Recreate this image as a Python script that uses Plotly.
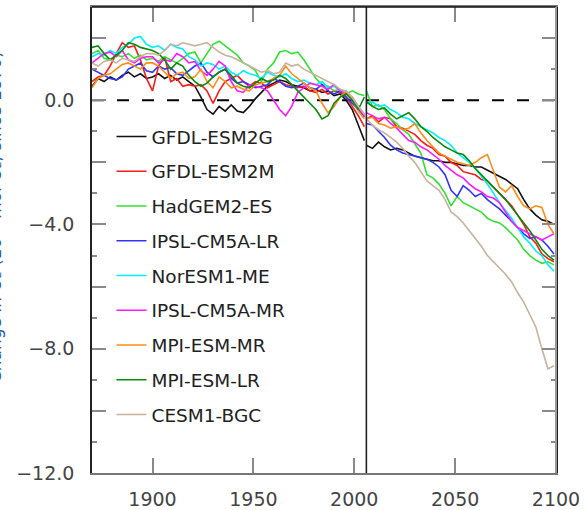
import plotly.graph_objects as go

# ---- data -------------------------------------------------------------
hist_years = list(range(1870, 2006, 3))   # 1870 ... 2005
fut_years = list(range(2006, 2100, 3))    # 2006 ... 2099

models = ["GFDL-ESM2G", "GFDL-ESM2M", "HadGEM2-ES", "IPSL-CM5A-LR", "NorESM1-ME",
          "IPSL-CM5A-MR", "MPI-ESM-MR", "MPI-ESM-LR", "CESM1-BGC"]
colors = ["#111111", "#ff1a1a", "#33e033", "#3333ff", "#00f0ff",
          "#ff1aff", "#ff8c1a", "#0a8a0a", "#c9b29b"]

gfdl_esm2g_hist = [0.45, 0.7, 0.6, 0.75, 0.65, 0.8, 0.9, 0.75, 0.85, 0.7,
                   0.75, 0.85, 0.7, 0.8, 0.65, 0.75, 0.6, 0.45, 0.1, -0.3,
                   -0.45, -0.2, -0.35, -0.15, -0.35, -0.4, -0.2, 0.05, 0.25, 0.45,
                   0.55, 0.65, 0.6, 0.5, 0.45, 0.4, 0.3, 0.35, 0.25, 0.3,
                   0.15, 0.2, 0.0, -0.3, -0.8, -1.3]
gfdl_esm2m_hist = [0.6, 0.75, 0.8, 1.1, 1.5, 1.85, 1.7, 1.75, 1.3, 0.7,
                   0.3, 1.1, 1.4, 0.6, 0.7, 0.45, 0.5, 0.45, 0.5, 0.3,
                   -0.1, 0.3, 0.6, 0.7, 0.8, 0.6, 0.45, 0.6, 0.55, 0.4,
                   0.5, 0.6, 0.5, 0.45, 0.4, 0.45, 0.3, 0.25, 0.35, 0.2,
                   0.3, 0.25, 0.1, -0.2, -0.5, -0.85]
hadgem2_es_hist = [1.5, 1.6, 1.35, 1.3, 1.45, 1.4, 1.5, 1.35, 1.45, 1.3,
                   1.35, 1.25, 1.4, 1.3, 1.2, 1.35, 1.5, 1.55, 1.2, 1.5,
                   1.8, 1.9, 1.75, 1.6, 1.45, 1.2, 1.1, 0.95, 0.6, 1.0,
                   1.2, 1.55, 1.6, 1.5, 1.55, 1.3, 1.0, 0.7, 0.5, 0.45,
                   0.3, 0.35, 0.2, 0.3, 0.2, 0.15]
ipsl_lr_hist = [1.0, 0.9, 0.8, 0.7, 0.65, 0.75, 1.0, 1.1, 1.2, 0.95,
                0.9, 1.1, 1.0, 1.05, 0.85, 0.8, 0.95, 1.1, 1.2, 0.9,
                0.75, 0.9, 1.0, 0.7, 0.55, 0.6, 0.5, 0.4, 0.45, 0.5,
                0.7, 0.6, 0.45, 0.4, 0.45, 0.55, 0.4, 0.35, 0.5, 0.3,
                0.2, 0.3, 0.1, -0.1, -0.3, -0.55]
noresm_hist = [1.4, 1.5, 1.45, 1.6, 1.5, 1.7, 1.8, 2.0, 2.05, 1.8,
               1.7, 1.75, 1.6, 1.8, 1.7, 1.65, 1.4, 1.3, 1.1, 1.2,
               1.15, 1.0, 1.1, 0.9, 0.8, 0.95, 0.85, 0.8, 0.7, 0.9,
               0.8, 0.75, 0.85, 0.7, 0.6, 0.65, 0.55, 0.5, 0.6, 0.4,
               0.45, 0.3, 0.25, 0.05, -0.2, -0.45]
ipsl_mr_hist = [1.2, 1.35, 1.5, 1.55, 1.4, 1.6, 1.3, 1.2, 1.35, 1.4,
                1.4, 1.2, 1.3, 1.25, 1.5, 1.4, 1.2, 1.25, 0.95, 0.8,
                1.0, 1.25, 1.1, 0.6, 0.3, 0.25, 0.5, 0.45, 0.4, 0.3,
                0.0, -0.3, -0.5, -0.2, 0.25, 0.4, 0.55, 0.5, 0.45, 0.35,
                0.5, 0.3, 0.2, 0.1, -0.2, -0.5]
mpi_mr_hist = [0.4, 0.7, 0.8, 0.85, 1.0, 1.15, 1.2, 1.1, 1.0, 1.2,
               1.2, 1.1, 0.9, 0.7, 0.85, 0.9, 0.7, 0.75, 1.0, 0.6,
               0.4, 0.75, 0.6, 0.4, 0.45, 0.35, 0.3, 0.5, 0.55, 0.6,
               0.7, 0.8, 1.1, 0.85, 0.7, 0.55, 0.4, 0.3, -0.1, -0.4,
               -0.2, 0.1, 0.3, 0.0, -0.35, -0.6]
mpi_lr_hist = [1.7, 1.75, 1.5, 1.3, 1.45, 1.6, 1.85, 1.8, 1.7, 1.65,
               1.6, 1.5, 1.3, 1.0, 1.2, 1.1, 0.8, 0.6, 0.45, 0.55,
               0.75, 0.9, 1.0, 0.8, 0.55, 0.45, 0.4, 0.55, 0.7, 0.6,
               0.65, 0.8, 0.7, 0.5, 0.3, 0.1, -0.1, -0.3, -0.6, -0.5,
               -0.1, 0.1, 0.2, 0.0, -0.3, 0.1]
cesm_hist = [1.2, 1.1, 1.25, 1.3, 1.2, 1.35, 1.3, 1.25, 1.4, 1.5,
             1.5, 1.45, 1.6, 1.8, 1.75, 1.85, 1.8, 1.75, 1.8, 1.85,
             1.7, 1.55, 1.45, 1.4, 1.3, 1.2, 1.1, 1.0, 0.9, 0.95,
             0.85, 0.9, 1.2, 1.1, 1.15, 1.0, 0.9, 0.8, 0.7, 0.6,
             0.5, 0.35, 0.3, 0.1, -0.2, -0.45]

gfdl_esm2g_fut = [-1.45, -1.55, -1.35, -1.5, -1.6, -1.55, -1.6, -1.7, -1.8, -1.85,
                  -1.9, -1.95, -1.95, -2.0, -2.0, -2.05, -2.1, -2.1, -2.15, -2.15,
                  -2.25, -2.35, -2.45, -2.55, -2.7, -2.85, -3.2, -3.5, -3.7, -3.85,
                  -3.9, -4.0]
gfdl_esm2m_fut = [-0.6, -0.5, -0.7, -0.55, -0.6, -0.85, -0.9, -1.0, -1.1, -1.3,
                  -1.45, -1.55, -1.75, -1.8, -2.0, -2.1, -2.3, -2.35, -2.4, -2.55,
                  -2.6, -2.8, -3.0, -3.2, -3.4, -3.7, -4.0, -4.4, -4.6, -4.95,
                  -5.1, -5.2]
hadgem2_es_fut = [0.3, -0.2, -0.15, -0.3, -0.6, -0.75, -0.95, -1.1, -1.4, -1.7,
                  -2.4, -2.5, -2.7, -3.0, -3.4, -3.1, -3.3, -3.4, -3.5, -3.6,
                  -3.8, -3.9, -3.95, -4.1, -4.3, -4.5, -4.8, -5.0, -5.15, -5.25,
                  -5.2, -5.3]
ipsl_lr_fut = [-0.75, -0.8, -1.0, -1.2, -1.45, -1.6, -1.7, -1.75, -1.8, -1.85,
               -1.9, -2.0, -2.15, -2.4, -2.9, -3.1, -2.75, -2.9, -3.1, -3.0,
               -3.2, -3.35, -3.5, -3.7, -3.9, -4.1, -4.3, -4.45, -4.4, -4.5,
               -4.7, -4.95]
noresm_fut = [-0.1, -0.05, -0.2, -0.15, -0.3, -0.4, -0.55, -0.6, -0.75, -0.85,
              -0.95, -1.05, -1.2, -1.3, -1.45, -1.7, -1.85, -2.0, -2.2, -2.45,
              -2.7, -3.0, -3.3, -3.55, -3.8, -4.1, -4.4, -4.6, -4.85, -5.0,
              -5.3, -5.5]
ipsl_mr_fut = [-0.4, -0.5, -0.6, -0.55, -0.75, -0.9, -1.1, -1.3, -1.35, -1.5,
               -1.6, -1.75, -1.9, -2.1, -2.25, -2.4, -2.5, -2.7, -2.85, -2.95,
               -3.1, -3.15, -3.3, -3.6, -3.9, -4.1, -4.2, -4.3, -4.4, -4.5,
               -4.4, -4.3]
mpi_mr_fut = [-0.6, -0.55, -0.75, -0.8, -0.9, -0.85, -0.95, -0.9, -0.75, -1.05,
              -1.3, -1.5, -1.7, -1.8, -1.9, -2.0, -2.05, -2.1, -2.0, -1.85,
              -1.75, -2.3, -2.8, -2.95, -2.75, -3.1, -3.4, -3.5, -3.4, -3.45,
              -4.0, -4.3]
mpi_lr_fut = [-0.05, -0.2, -0.3, -0.25, -0.45, -0.6, -0.5, -0.4, -0.6, -0.85,
              -1.0, -1.2, -1.35, -1.5, -1.6, -1.7, -1.75, -1.95, -2.2, -2.4,
              -2.6, -2.8, -3.0, -3.2, -3.45, -3.7, -3.95, -4.2, -4.5, -4.8,
              -5.0, -5.15]
cesm_fut = [-0.6, -0.8, -0.95, -1.05, -1.2, -1.35, -1.55, -1.8, -2.0, -2.3,
            -2.6, -2.75, -2.9, -3.2, -3.6, -3.75, -3.95, -4.2, -4.45, -4.7,
            -5.0, -5.2, -5.4, -5.6, -5.85, -6.2, -6.5, -6.9, -7.3, -8.0,
            -8.65, -8.55]

hist_series = [gfdl_esm2g_hist, gfdl_esm2m_hist, hadgem2_es_hist, ipsl_lr_hist, noresm_hist,
               ipsl_mr_hist, mpi_mr_hist, mpi_lr_hist, cesm_hist]
fut_series = [gfdl_esm2g_fut, gfdl_esm2m_fut, hadgem2_es_fut, ipsl_lr_fut, noresm_fut,
              ipsl_mr_fut, mpi_mr_fut, mpi_lr_fut, cesm_fut]

y_tick_vals = [2, 0, -2, -4, -6, -8, -10, -12]
y_tick_text = ["", "0.0", "", "\u22124.0", "", "\u22128.0", "", "\u221212.0"]
x_tick_vals = [1900, 1950, 2000, 2050, 2100]
split_year = 2006

# ---- figure -----------------------------------------------------------
FONT = "DejaVu Sans"
fig = go.Figure()

for i, name in enumerate(models):
    xs = hist_years + [None] + fut_years
    ys = hist_series[i] + [None] + fut_series[i]
    fig.add_trace(go.Scatter(
        x=xs, y=ys, mode="lines", name=name, legendgroup=name,
        line=dict(color=colors[i], width=1.6), connectgaps=False,
    ))

# zero dashed line and historic/future split
fig.add_hline(y=0, line=dict(color="black", width=2, dash="12px,13px"), layer="below")
fig.add_vline(x=split_year, line=dict(color="#222222", width=1.6))

# frame: black top edge, gray right edge
fig.add_shape(type="line", xref="paper", yref="paper", x0=0, x1=1, y0=1, y1=1,
              line=dict(color="#111111", width=1.6))
fig.add_shape(type="line", xref="paper", yref="paper", x0=1, x1=1, y0=0, y1=1,
              line=dict(color="#999999", width=2))

fig.update_layout(
    width=584, height=510,
    margin=dict(l=92, r=28, t=7, b=37, autoexpand=False),
    paper_bgcolor="white", plot_bgcolor="white",
    font=dict(family=FONT, size=19, color="#444444"),
    showlegend=True,
    legend=dict(
        x=0.042, y=0.762, xanchor="left", yanchor="top",
        bgcolor="rgba(0,0,0,0)", borderwidth=0,
        font=dict(family=FONT, size=18.5, color="#222222"),
        tracegroupgap=7.7, traceorder="grouped", itemwidth=30,
    ),
    xaxis=dict(
        range=[1870, 2100], tickvals=x_tick_vals, ticks="inside", ticklen=15,
        tickwidth=2, tickcolor="#8a8a8a", showline=True, linecolor="#777777",
        linewidth=1.5, mirror="ticks", showgrid=False, zeroline=False,
        tickfont=dict(family=FONT, size=19, color="#444444"),
        ticklabelstandoff=8, automargin=False,
    ),
    yaxis=dict(
        range=[-12, 3], tickvals=y_tick_vals, ticktext=y_tick_text,
        ticks="inside", ticklen=14, tickwidth=2, tickcolor="#8a8a8a",
        minor=dict(dtick=1, ticks="inside", ticklen=5, tickwidth=2, tickcolor="#8a8a8a"),
        showline=True, linecolor="#222222", linewidth=1.6, mirror="ticks",
        showgrid=False, zeroline=False,
        tickfont=dict(family=FONT, size=19, color="#444444"),
        ticklabelstandoff=12, automargin=False,
    ),
    annotations=[dict(
        text="Change in O\u2082 (10\u00b9\u2074 mol O\u2082, since 1870)",
        xref="paper", yref="paper", x=-0.2105, y=0.55, xanchor="center", yanchor="middle",
        textangle=-90, showarrow=False,
        font=dict(family=FONT, size=17, color="#2a5db0"),
    )],
)

fig.write_html(
    "out.html",
    config={"displayModeBar": False},
    post_script="document.body.style.margin='0';document.body.style.overflow='hidden';",
)
